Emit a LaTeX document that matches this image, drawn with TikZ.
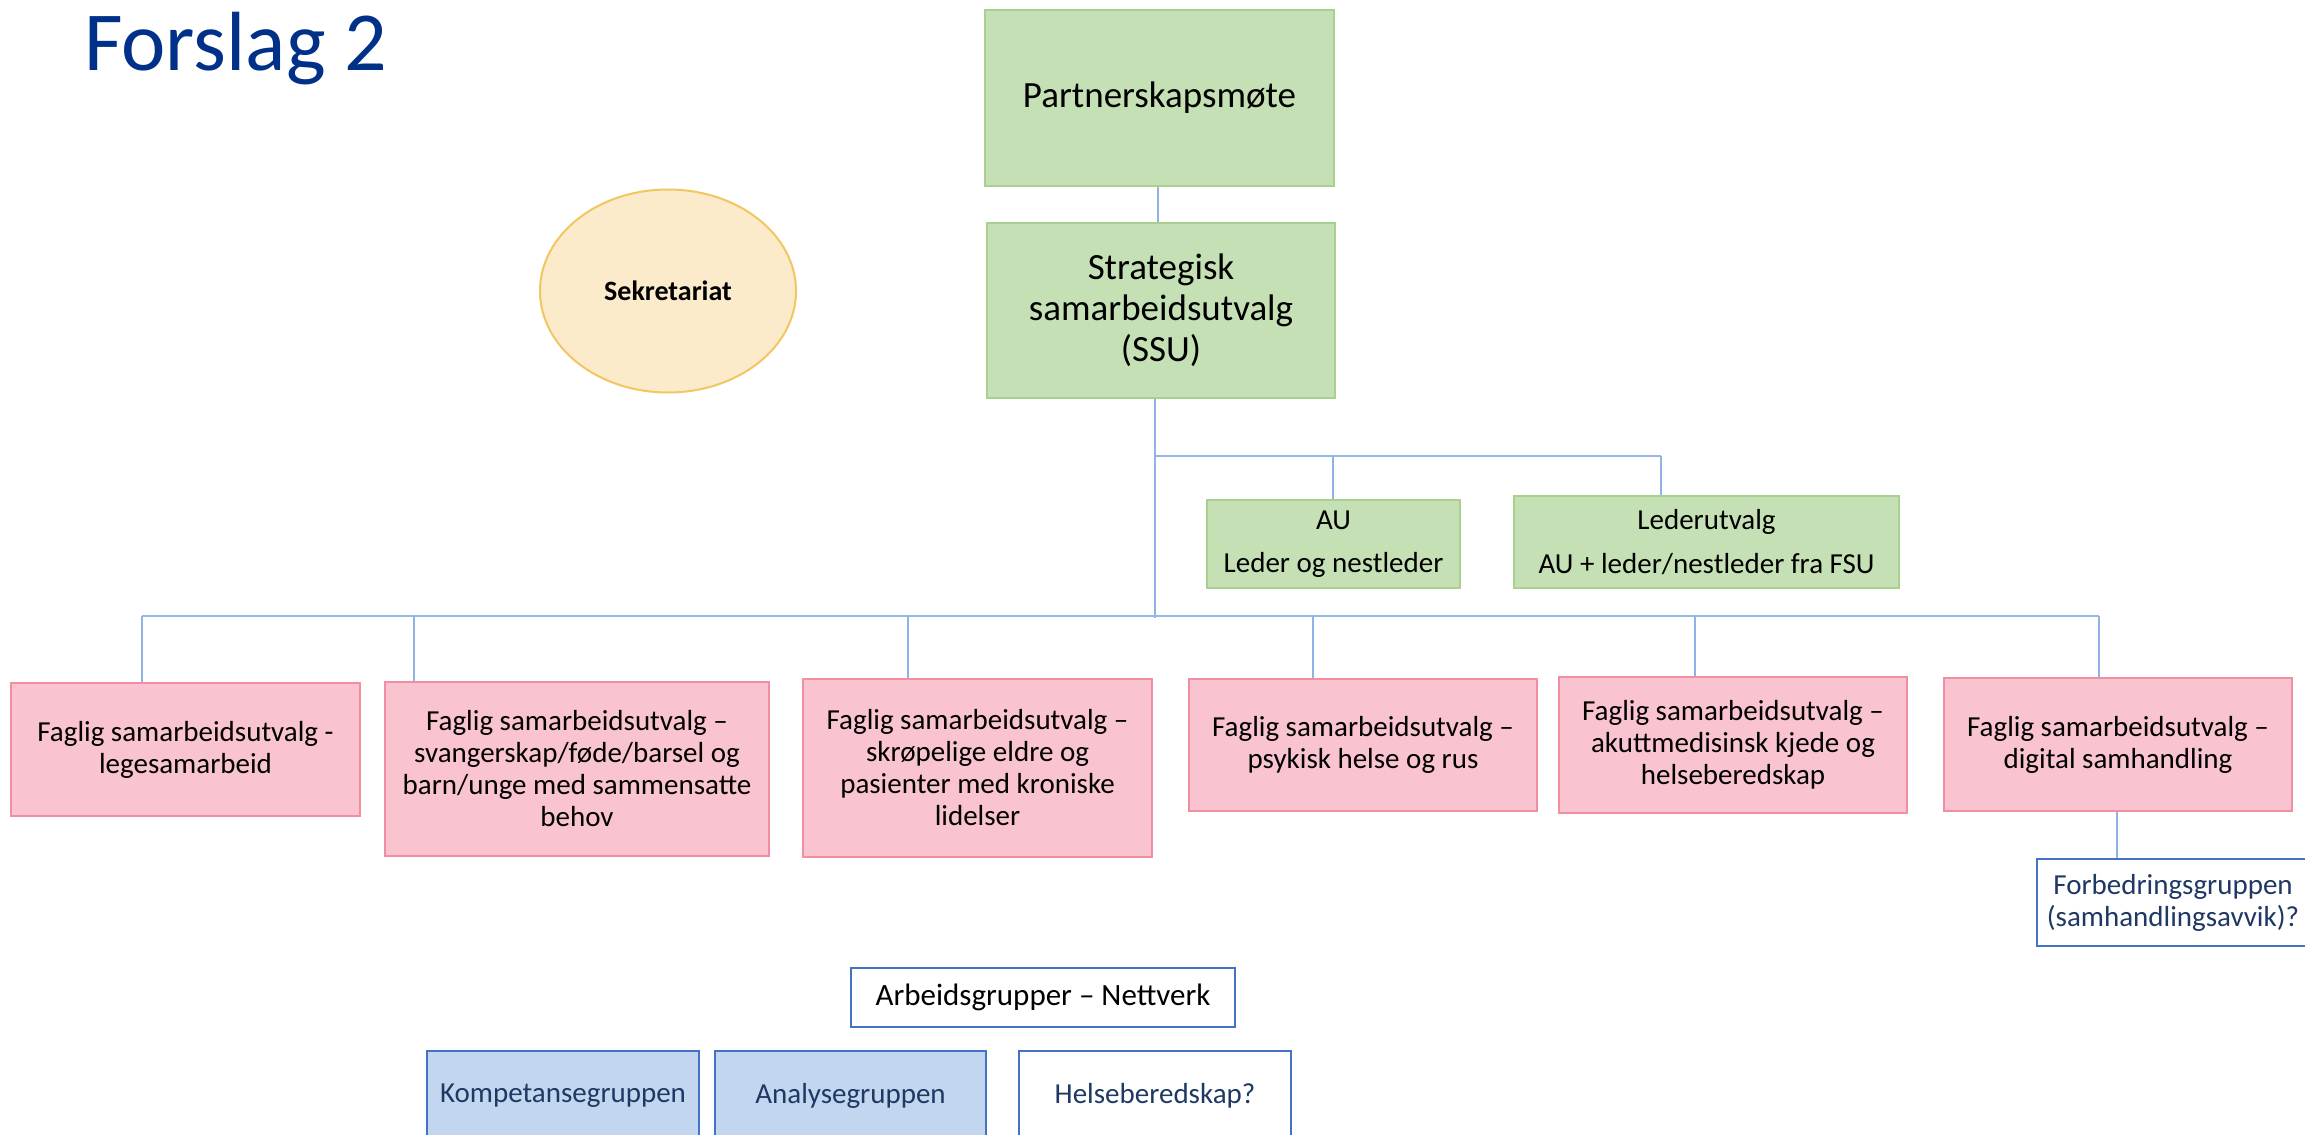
\documentclass[tikz,border=0pt]{standalone}
\usepackage{fontspec}
\setmainfont{Carlito}
\usetikzlibrary{shapes.geometric}
\definecolor{titleblue}{RGB}{0,48,135}
\definecolor{gfill}{HTML}{C5E0B4}
\definecolor{gdraw}{HTML}{A9D18E}
\definecolor{pfill}{HTML}{F9C4CF}
\definecolor{pdraw}{HTML}{F28DA2}
\definecolor{efill}{HTML}{FBEBCB}
\definecolor{edraw}{HTML}{F2C660}
\definecolor{bfill}{HTML}{C3D6EF}
\definecolor{bdraw}{HTML}{4472C4}
\definecolor{btext}{HTML}{1F3864}
\definecolor{lineblue}{HTML}{8FB3E6}
\definecolor{busblue}{HTML}{95B7E8}
\tikzset{
  greenbox/.style={draw=gdraw, fill=gfill, line width=2pt, inner sep=0pt, align=center, text=black},
  pinkbox/.style={draw=pdraw, fill=pfill, line width=2pt, inner sep=0pt, align=center, text=black,
    font=\fontsize{29}{32}\selectfont},
  bluebox/.style={draw=bdraw, fill=bfill, line width=2pt, inner sep=0pt, align=center, text=btext,
    font=\fontsize{29}{32}\selectfont},
  whitebox/.style={draw=bdraw, fill=white, line width=2pt, inner sep=0pt, align=center, text=btext,
    font=\fontsize{29}{32}\selectfont},
  conn/.style={draw=lineblue, line width=1.7pt},
  bus/.style={draw=busblue, line width=2.2pt},
}
% place a box by its corners: #1 style, #2 name, (x1,y1) (x2,y2), #7 text
\newcommand{\mybox}[7]{%
  \node[#1, minimum width={(#5-#3)*1pt}, minimum height={(#6-#4)*1pt}]
    (#2) at ({(#3+#5)/2},{(#4+#6)/2}) {#7};}
\begin{document}
\begin{tikzpicture}[x=1pt,y=-1pt]
\useasboundingbox (0,0) rectangle (2305,1135);
\clip (0,0) rectangle (2305,1135);
\fill[white] (0,0) rectangle (2305,1135);

% title
\node[anchor=base west, inner sep=0pt, text=titleblue, font=\fontsize{84}{90}\selectfont]
  (title) at (84,70) {Forslag 2};

% top boxes
\mybox{greenbox, font=\fontsize{37}{41}\selectfont}{partner}{985}{10}{1334}{186}{Partnerskapsmøte}
\mybox{greenbox, font=\fontsize{37}{41}\selectfont}{ssu}{987}{223}{1335}{398}{Strategisk\\samarbeidsutvalg\\(SSU)}

% secretariat
\node[ellipse, draw=edraw, fill=efill, line width=2pt, minimum width=256pt, minimum height=203pt,
  inner sep=0pt, font=\bfseries\fontsize{28}{32}\selectfont] (sek) at (668,291) {Sekretariat};

% AU and Lederutvalg
\mybox{greenbox, font=\fontsize{29}{32}\selectfont}{au}{1207}{500}{1460}{588}{AU\\[11pt]Leder og nestleder}
\mybox{greenbox, font=\fontsize{29}{32}\selectfont}{leder}{1514}{496}{1899}{588}{Lederutvalg\\[12pt]AU + leder/nestleder fra FSU}

% faglige samarbeidsutvalg
\mybox{pinkbox}{f1}{11}{683}{360}{816}{Faglig samarbeidsutvalg -\\legesamarbeid}
\mybox{pinkbox}{f2}{385}{682}{769}{856}{Faglig samarbeidsutvalg –\\svangerskap/føde/barsel og\\barn/unge med sammensatte\\behov}
\mybox{pinkbox}{f3}{803}{679}{1152}{857}{Faglig samarbeidsutvalg –\\skrøpelige eldre og\\pasienter med kroniske\\lidelser}
\mybox{pinkbox}{f4}{1189}{679}{1537}{811}{Faglig samarbeidsutvalg –\\psykisk helse og rus}
\mybox{pinkbox}{f5}{1559}{677}{1907}{813}{Faglig samarbeidsutvalg –\\akuttmedisinsk kjede og\\helseberedskap}
\mybox{pinkbox}{f6}{1944}{678}{2292}{811}{Faglig samarbeidsutvalg –\\digital samhandling}

% Forbedringsgruppen
\mybox{whitebox}{forb}{2037}{859}{2309}{946}{Forbedringsgruppen\\(samhandlingsavvik)?}

% Arbeidsgrupper
\mybox{whitebox, text=black, font=\fontsize{31}{34}\selectfont}{arb}{851}{968}{1235}{1027}{Arbeidsgrupper – Nettverk}
\mybox{bluebox}{komp}{427}{1051}{699}{1140}{Kompetansegruppen}
\mybox{bluebox}{anal}{715}{1051}{986}{1140}{Analysegruppen}
\mybox{whitebox}{helse}{1019}{1051}{1291}{1140}{Helseberedskap?}

% bus coordinates
\coordinate (busA) at (1155,456);
\coordinate (busAend) at (1661,456);
\coordinate (busB) at (1155,618);
\coordinate (busBleft) at (142,616);
\coordinate (busBright) at (2099,616);

% connectors
\draw[conn] (partner.south -| 1158,0) -- (ssu.north -| 1158,0);
\draw[conn] (ssu.south -| busA) -- (busB);
\draw[bus] (busA) -- (busAend);
\draw[bus] (busBleft) -- (busBright);
\draw[conn] (1333,456) -- (au.north -| 1333,0);
\draw[conn] (busAend) -- (leder.north -| busAend);
\draw[conn] (busBleft) -- (f1.north -| busBleft);
\draw[conn] (414,616) -- (f2.north -| 414,0);
\draw[conn] (908,616) -- (f3.north -| 908,0);
\draw[conn] (1313,616) -- (f4.north -| 1313,0);
\draw[conn] (1695,616) -- (f5.north -| 1695,0);
\draw[conn] (busBright) -- (f6.north -| busBright);
\draw[conn] (f6.south -| 2117,0) -- (forb.north -| 2117,0);
\end{tikzpicture}
\end{document}
